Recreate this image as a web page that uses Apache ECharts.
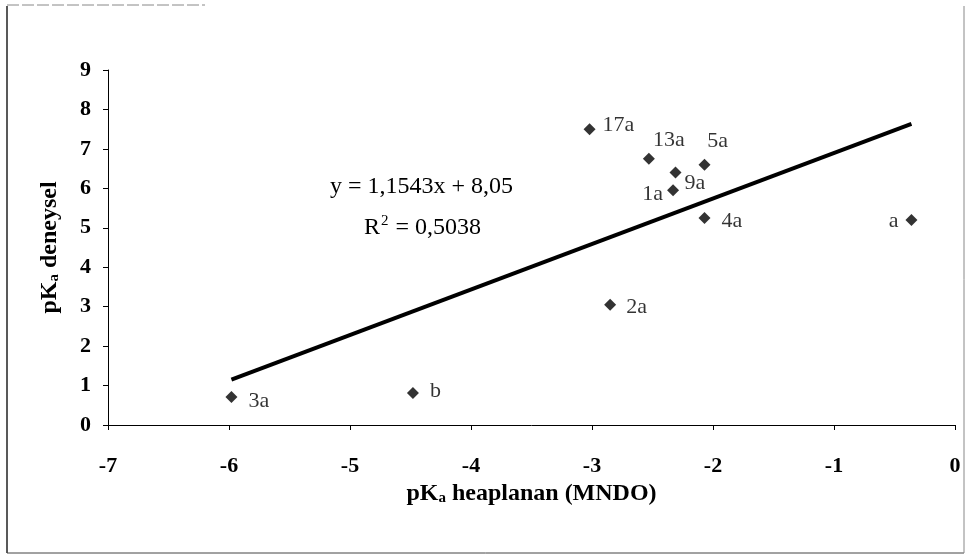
<!DOCTYPE html>
<html>
<head>
<meta charset="utf-8">
<script src="https://cdn.jsdelivr.net/npm/echarts@6/dist/echarts.min.js"></script>
<style>
  html, body { margin: 0; padding: 0; background: #ffffff; }
  #chart { width: 967px; height: 558px; }
</style>
</head>
<body>
<div id="chart"></div>
<script>
// Compound labels with computed (MNDO) and experimental pKa values
const names      = ['3a', 'b', '2a', '17a', '13a', '9a', '1a', '5a', '4a', 'a'];
const pkaMndo    = [-5.98, -4.48, -2.85, -3.02, -2.53, -2.31, -2.33, -2.07, -2.07, -0.36];
const pkaExp     = [0.71, 0.81, 3.05, 7.50, 6.75, 6.40, 5.95, 6.60, 5.25, 5.20];

// Linear fit reported on the chart
const fitSlope = 1.1543;
const fitIntercept = 8.05;
const fitR2 = 0.5038;

// Label placement for each compound
const labelPlace = {
  '3a':  { position: 'right', distance: 11, offset: [0, 4] },
  'b':   { position: 'right', distance: 11, offset: [0, -2] },
  '2a':  { position: 'right', distance: 10, offset: [0, 3] },
  '17a': { position: 'right', distance: 7,  offset: [0, -4] },
  '13a': { position: 'top',   distance: 2,  offset: [20, 0] },
  '9a':  { position: 'right', distance: 3,  offset: [0, 11] },
  '1a':  { position: 'left',  distance: 4,  offset: [0, 4] },
  '5a':  { position: 'top',   distance: 6,  offset: [13, 0] },
  '4a':  { position: 'right', distance: 11, offset: [0, 3] },
  'a':   { position: 'left',  distance: 7,  offset: [0, 1] }
};

const fmt = (v, d) => v.toFixed(d).replace('.', ',');

const points = names.map((n, i) => ({
  name: n,
  value: [pkaMndo[i], pkaExp[i]],
  label: labelPlace[n]
}));

const xLo = Math.min(...pkaMndo);
const xHi = Math.max(...pkaMndo);
const trend = [
  [xLo, fitSlope * xLo + fitIntercept],
  [xHi, fitSlope * xHi + fitIntercept]
];

const serif = '"Liberation Serif", "Times New Roman", serif';
const ink = '#000';
const chart = echarts.init(document.getElementById('chart'));

const titleStyle = {
  fontFamily: serif, fontSize: 24, fontWeight: 'bold', color: ink,
  rich: { sub: { fontFamily: serif, fontSize: 15, fontWeight: 'bold', color: ink, verticalAlign: 'bottom', padding: [7, 0, 0, 0] } }
};

chart.setOption({
  backgroundColor: '#ffffff',
  animation: false,
  grid: { left: 108, right: 12, top: 70, bottom: 133 },
  xAxis: {
    type: 'value',
    min: -7, max: 0, interval: 1,
    name: 'pK{sub|a} heaplanan (MNDO)',
    nameLocation: 'middle',
    nameGap: 50,
    nameTextStyle: titleStyle,
    axisLine: { onZero: false, lineStyle: { color: ink, width: 1 } },
    axisTick: { show: true, inside: false, length: 5, lineStyle: { color: ink } },
    axisLabel: { margin: 30, fontFamily: serif, fontSize: 22, fontWeight: 'bold', color: ink },
    splitLine: { show: false }
  },
  yAxis: {
    type: 'value',
    min: 0, max: 9, interval: 1,
    name: 'pK{sub|a} deneysel',
    nameLocation: 'middle',
    nameGap: 46,
    nameRotate: 90,
    nameTextStyle: titleStyle,
    axisLine: { show: true, onZero: false, lineStyle: { color: ink, width: 1 } },
    axisTick: { show: true, inside: false, length: 5, lineStyle: { color: ink } },
    axisLabel: { margin: 17, fontFamily: serif, fontSize: 22, fontWeight: 'bold', color: ink },
    splitLine: { show: false }
  },
  series: [
    {
      type: 'line',
      data: trend,
      symbol: 'none',
      lineStyle: { color: ink, width: 4 },
      z: 2,
      silent: true
    },
    {
      type: 'scatter',
      data: points,
      symbol: 'diamond',
      symbolSize: 12,
      itemStyle: { color: ink },
      label: {
        show: true,
        formatter: '{b}',
        fontFamily: serif,
        fontSize: 22,
        color: ink
      },
      z: 3
    }
  ],
  graphic: [
    {
      type: 'text',
      left: 330, top: 175,
      style: {
        text: 'y = ' + fmt(fitSlope, 4) + 'x + ' + fmt(fitIntercept, 2),
        font: '24px ' + serif,
        fill: ink
      }
    },
    {
      type: 'text',
      left: 364, top: 214,
      style: {
        text: 'R{sup|2} = ' + fmt(fitR2, 4),
        font: '24px ' + serif,
        fill: ink,
        rich: { sup: { fontFamily: serif, fontSize: 15, fill: ink, verticalAlign: 'top', padding: [0, 1, 12, 1] } }
      }
    },
    // frame around the figure
    { type: 'line', shape: { x1: 7, y1: 6, x2: 7, y2: 553 }, style: { stroke: '#222', lineWidth: 1.5 } },
    { type: 'line', shape: { x1: 7, y1: 553, x2: 964, y2: 553 }, style: { stroke: '#444', lineWidth: 1 } },
    { type: 'line', shape: { x1: 964, y1: 6, x2: 964, y2: 553 }, style: { stroke: '#888', lineWidth: 1 } },
    { type: 'line', shape: { x1: 7, y1: 5, x2: 205, y2: 5 }, style: { stroke: '#888', lineWidth: 1, lineDash: [12, 3] } }
  ]
});
</script>
</body>
</html>
